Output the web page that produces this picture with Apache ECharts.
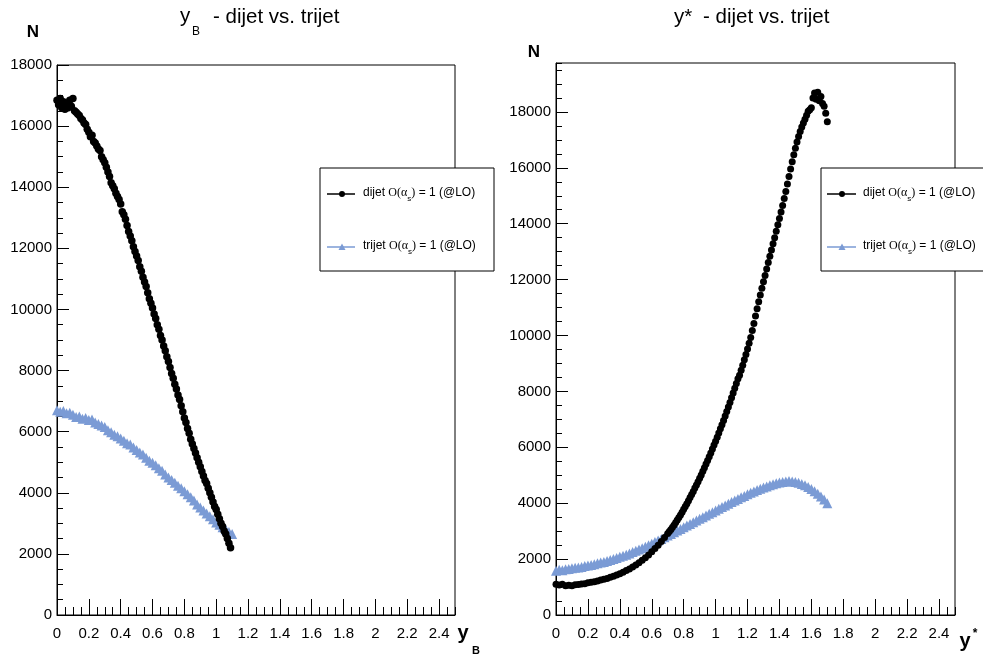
<!DOCTYPE html>
<html><head><meta charset="utf-8">
<script src="https://cdn.jsdelivr.net/npm/echarts@6/dist/echarts.min.js"></script>
<style>html,body{margin:0;padding:0;background:#fff}#c{width:983px;height:659px}</style>
</head><body><div id="c"></div>
<script>
// ---- data (bin width given by STEP constants) ----
const LEFT_DIJET_STEP = 0.01;
const leftDijet = [
16850,16700,16900,16600,16800,16550,16700,16600,16850,16650,
16900,16500,16450,16400,16350,16250,16200,16100,16050,15900,
15800,15650,15700,15500,15450,15350,15250,15200,15000,14900,
14800,14650,14500,14350,14150,14050,13950,13800,13700,13600,
13450,13200,13100,12950,12750,12550,12400,12250,12050,11900,
11750,11600,11400,11250,11050,10900,10750,10550,10350,10200,
10050,9850,9700,9500,9350,9150,9000,8800,8650,8450,
8300,8100,7900,7750,7550,7400,7200,7050,6850,6650,
6450,6300,6100,5950,5750,5600,5450,5300,5150,5000,
4850,4700,4550,4400,4300,4150,4000,3850,3700,3550,
3450,3300,3150,3000,2900,2750,2650,2500,2350,2200];
const LEFT_TRIJET_STEP = 0.02;
const leftTrijet = [
6700,6650,6680,6600,6620,6550,6480,6500,6420,6450,
6380,6400,6300,6250,6200,6150,6050,5980,5900,5850,
5780,5700,5620,5580,5480,5400,5320,5250,5150,5050,
4980,4900,4800,4720,4600,4500,4420,4330,4230,4150,
4050,3950,3850,3750,3620,3520,3420,3320,3230,3130,
3030,2950,2870,2800,2720,2650];
const RIGHT_DIJET_LOW_START = 0, RIGHT_DIJET_LOW_STEP = 0.02;
const rightDijetLow = [
1100,1070,1100,1050,1060,1050,1080,1090,1110,1120,
1150,1170,1190,1220,1250,1280,1310,1350,1390,1430,
1480,1530,1590,1650,1720,1790,1870,1960,2050,2150,
2260,2380,2500,2630,2770,2920];
const RIGHT_DIJET_HIGH_START = 0.71, RIGHT_DIJET_HIGH_STEP = 0.01;
const rightDijetHigh = [
2990,3060,3140,3220,3310,3400,3490,3580,3680,3780,
3880,3980,4090,4200,4310,4420,4540,4650,4770,4890,
5010,5140,5270,5400,5530,5660,5800,5940,6080,6220,
6360,6510,6660,6810,6960,7120,7280,7440,7600,7770,
7940,8110,8280,8450,8580,8760,8940,9130,9320,9520,
9720,9930,10180,10430,10700,10960,11210,11450,11690,11920,
12150,12380,12610,12840,13060,13280,13500,13730,13960,14190,
14420,14650,14900,15150,15420,15690,15960,16220,16470,16700,
16920,17120,17300,17460,17600,17740,17880,18020,18080,18150,
18500,18680,18450,18700,18400,18550,18300,18200,17950,17650];
const RIGHT_TRIJET_STEP = 0.02;
const rightTrijet = [
1580,1620,1600,1640,1650,1670,1690,1700,1720,1750,
1770,1790,1820,1850,1880,1900,1930,1970,2000,2040,
2080,2120,2160,2200,2250,2300,2340,2390,2440,2500,
2550,2610,2670,2720,2780,2840,2900,2960,3020,3080,
3140,3200,3260,3320,3380,3440,3500,3560,3620,3680,
3740,3800,3860,3920,3980,4040,4100,4150,4210,4260,
4320,4370,4420,4470,4520,4560,4600,4640,4680,4710,
4740,4760,4780,4790,4780,4760,4730,4690,4640,4580,
4510,4430,4340,4240,4130,4000];
const titles = ['- dijet vs. trijet', '- dijet vs. trijet'];
const legendNames = ['dijet', 'trijet'];

// ---- helpers ----
function bins(start, step, vals) {
  return vals.map((v, i) => [+(start + i * step).toFixed(3), v]);
}
const FONT = '"Liberation Sans", Arial, Helvetica, sans-serif';
const SERIF = '"Liberation Serif", "Times New Roman", serif';
const BLUE = '#7b9bd5';

function xMajor(gi) {
  return {type: 'value', gridIndex: gi, min: 0, max: 2.5, interval: 0.2, position: 'bottom',
    axisLine: {show: true, onZero: false, lineStyle: {color: '#000', width: 1}},
    axisTick: {show: true, inside: true, length: 16, lineStyle: {color: '#000', width: 1}},
    axisLabel: {show: true, margin: 11, color: '#000', fontSize: 15, fontFamily: FONT, showMaxLabel: false,
      formatter: v => String(+v.toFixed(2))},
    splitLine: {show: false}};
}
function xMinor(gi) {
  return {type: 'value', gridIndex: gi, min: 0, max: 2.5, interval: 0.05, position: 'bottom',
    axisLine: {show: false}, axisTick: {show: true, inside: true, length: 8, lineStyle: {color: '#000', width: 1}},
    axisLabel: {show: false}, splitLine: {show: false}};
}
function yMajor(gi, max) {
  return {type: 'value', gridIndex: gi, min: 0, max: max, interval: 2000, position: 'left',
    axisLine: {show: true, onZero: false, lineStyle: {color: '#000', width: 1}},
    axisTick: {show: true, inside: true, length: 12, lineStyle: {color: '#000', width: 1}},
    axisLabel: {show: true, margin: 5, color: '#000', fontSize: 15, fontFamily: FONT, showMaxLabel: max % 2000 === 0,
      formatter: v => String(Math.round(v))},
    splitLine: {show: false}};
}
function yMinor(gi, max) {
  return {type: 'value', gridIndex: gi, min: 0, max: max, interval: 500, position: 'left',
    axisLine: {show: false}, axisTick: {show: true, inside: true, length: 6, lineStyle: {color: '#000', width: 1}},
    axisLabel: {show: false}, splitLine: {show: false}};
}

function txt(x, y, text, size, opts) {
  return {type: 'text', x: x, y: y, silent: true, z: 100,
    style: Object.assign({text: text, fontSize: size, fontFamily: FONT, fill: '#000', align: 'left', verticalAlign: 'middle'}, opts || {})};
}
function legendBox(bx, by, bw, bh, lx1, lx2, mx, tx) {
  const y1 = by + 26, y2 = by + 79;
  const rich = {
    a: {fontSize: 12, fontFamily: FONT, lineHeight: 14, verticalAlign: 'top', fill: '#000'},
    b: {fontSize: 12, fontFamily: SERIF, lineHeight: 14, verticalAlign: 'top', fill: '#000'},
    s: {fontSize: 8, fontFamily: FONT, lineHeight: 10, padding: [8, 0, 0, 0], verticalAlign: 'top', fill: '#000'}
  };
  return [
    {type: 'rect', z: 90, shape: {x: bx, y: by, width: bw, height: bh}, style: {fill: '#fff', stroke: '#000', lineWidth: 1}},
    {type: 'line', z: 91, shape: {x1: lx1, y1: y1, x2: lx2, y2: y1}, style: {stroke: '#000', lineWidth: 1.5}},
    {type: 'circle', z: 92, shape: {cx: mx, cy: y1, r: 3}, style: {fill: '#000'}},
    {type: 'line', z: 91, shape: {x1: lx1, y1: y2, x2: lx2, y2: y2}, style: {stroke: BLUE, lineWidth: 1.5}},
    {type: 'polygon', z: 92, shape: {points: [[mx - 3.5, y2 + 3], [mx + 3.5, y2 + 3], [mx, y2 - 3.5]]}, style: {fill: BLUE}},
    {type: 'text', z: 93, x: tx, y: y1 - 7, style: {text: '{a|' + legendNames[0] + ' }{b|O(α}{s|s}{b|)}{a| = 1 (@LO)}', rich: rich, align: 'left', verticalAlign: 'top'}},
    {type: 'text', z: 93, x: tx, y: y2 - 7, style: {text: '{a|' + legendNames[1] + ' }{b|O(α}{s|s}{b|)}{a| = 1 (@LO)}', rich: rich, align: 'left', verticalAlign: 'top'}}
  ];
}

const option = {
  backgroundColor: '#fff',
  animation: false,
  grid: [
    {left: 57, top: 65, width: 398, height: 550, show: true, borderColor: '#000', borderWidth: 1, backgroundColor: 'transparent'},
    {left: 556, top: 63, width: 399, height: 552, show: true, borderColor: '#000', borderWidth: 1, backgroundColor: 'transparent'}
  ],
  xAxis: [xMajor(0), xMinor(0), xMajor(1), xMinor(1)],
  yAxis: [yMajor(0, 18000), yMinor(0, 18000), yMajor(1, 19750), yMinor(1, 19750)],
  series: [
    {name: 'trijet yB', type: 'scatter', xAxisIndex: 0, yAxisIndex: 0, symbol: 'triangle', symbolSize: 10,
      itemStyle: {color: BLUE, opacity: 1}, data: bins(0, LEFT_TRIJET_STEP, leftTrijet), z: 2},
    {name: 'dijet yB', type: 'scatter', xAxisIndex: 0, yAxisIndex: 0, symbol: 'circle', symbolSize: 7.5,
      itemStyle: {color: '#000', opacity: 1}, data: bins(0, LEFT_DIJET_STEP, leftDijet), z: 3},
    {name: 'trijet y*', type: 'scatter', xAxisIndex: 2, yAxisIndex: 2, symbol: 'triangle', symbolSize: 10,
      itemStyle: {color: BLUE, opacity: 1}, data: bins(0, RIGHT_TRIJET_STEP, rightTrijet), z: 2},
    {name: 'dijet y*', type: 'scatter', xAxisIndex: 2, yAxisIndex: 2, symbol: 'circle', symbolSize: 7,
      itemStyle: {color: '#000', opacity: 1},
      data: bins(RIGHT_DIJET_LOW_START, RIGHT_DIJET_LOW_STEP, rightDijetLow)
        .concat(bins(RIGHT_DIJET_HIGH_START, RIGHT_DIJET_HIGH_STEP, rightDijetHigh)), z: 3}
  ],
  graphic: [
    // left title: y_B - dijet vs. trijet
    txt(180, 16, 'y', 20.5), txt(192, 32, 'B', 12), txt(213, 17, titles[0], 20.5),
    // right title: y* - dijet vs. trijet
    txt(674, 17, 'y*', 20.5), txt(703, 17, titles[1], 20.5),
    // axis titles
    txt(33, 32, 'N', 17, {align: 'center', fontWeight: 'bold'}),
    txt(534, 52, 'N', 17, {align: 'center', fontWeight: 'bold'}),
    txt(463, 633, 'y', 20, {align: 'center', fontWeight: 'bold'}),
    txt(476, 651, 'B', 11, {align: 'center', fontWeight: 'bold'}),
    txt(965, 641, 'y', 20, {align: 'center', fontWeight: 'bold'}),
    txt(975, 634, '*', 12, {align: 'center', fontWeight: 'bold'})
  ].concat(legendBox(320, 168, 174, 103, 327, 355, 342, 363))
   .concat(legendBox(821, 168, 175, 103, 827, 856, 842, 863))
};
const chart = echarts.init(document.getElementById('c'), null, {renderer: 'canvas'});
chart.setOption(option);
</script></body></html>
